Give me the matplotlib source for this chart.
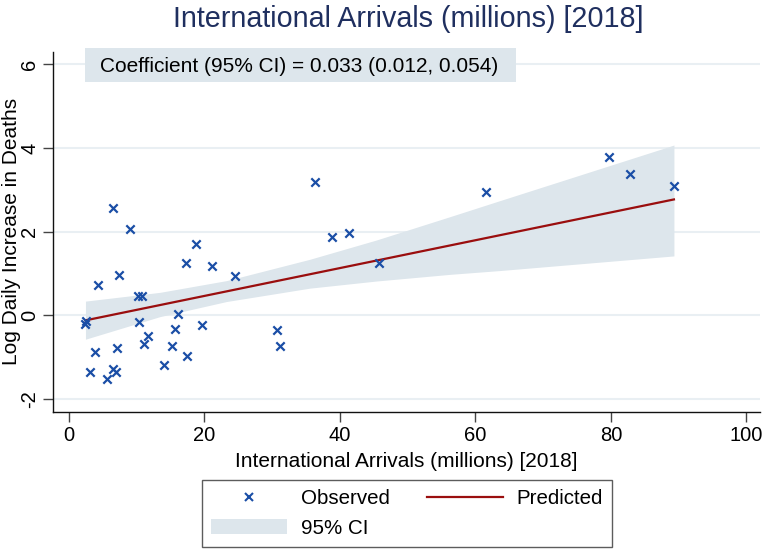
import matplotlib.pyplot as plt
from matplotlib.patches import Patch, Rectangle
from matplotlib.lines import Line2D

plt.rcParams['font.family'] = ['Liberation Sans', 'DejaVu Sans']
plt.rcParams['axes.unicode_minus'] = False

# Observed points (international arrivals in millions, log daily increase in deaths)
arrivals = [6.61, 9.07, 18.76, 17.37, 21.12, 24.51, 4.40, 7.40, 10.21, 10.88,
            2.54, 2.43, 16.15, 10.44, 15.75, 19.65, 11.73, 11.18, 15.31, 17.48,
            3.86, 7.15, 14.09, 3.22, 6.56, 7.01, 5.72, 30.80, 31.15, 36.31,
            38.86, 41.33, 45.75, 61.53, 79.76, 82.77, 89.31]
log_deaths = [2.57, 2.06, 1.70, 1.25, 1.19, 0.93, 0.72, 0.96, 0.47, 0.47,
              -0.14, -0.21, 0.04, -0.17, -0.33, -0.22, -0.50, -0.68, -0.73, -0.97,
              -0.87, -0.77, -1.18, -1.35, -1.28, -1.36, -1.51, -0.35, -0.73, 3.18,
              1.88, 1.97, 1.25, 2.94, 3.78, 3.38, 3.09]

# Predicted line and 95% CI band
pred_x = [2.5, 89.3]
pred_y = [-0.12, 2.77]
ci_x = [2.5, 13.5, 23.3, 35.6, 45.4, 56.3, 63.6, 89.3]
ci_lo = [-0.57, -0.03, 0.33, 0.65, 0.82, 0.98, 1.07, 1.42]
ci_hi = [0.34, 0.55, 0.83, 1.34, 1.80, 2.36, 2.74, 4.07]

coef_text = 'Coefficient (95% CI) = 0.033 (0.012, 0.054)'
title = 'International Arrivals (millions) [2018]'

band_col = '#dde6ec'
line_col = '#9a0e0e'
mark_col = '#1a4ea6'

fig = plt.figure(figsize=(7.64, 5.52), dpi=100)
ax = fig.add_axes([0.0698, 0.2536, 0.925, 0.6527])

ax.fill_between(ci_x, ci_lo, ci_hi, color=band_col, lw=0, zorder=1)
ax.plot(pred_x, pred_y, color=line_col, lw=1.6, zorder=3)
ax.scatter(arrivals, log_deaths, marker='x', color=mark_col, s=36, linewidths=1.6, zorder=4)

ax.set_xlim(-2.24, 102.0)
ax.set_ylim(-2.31, 6.30)
ax.set_xticks([0, 20, 40, 60, 80, 100])
ax.set_yticks([-2, 0, 2, 4, 6])
ax.grid(axis='y', color='#e9eff3', lw=1.5, zorder=0)
ax.set_axisbelow(True)
for side in ['top', 'right']:
    ax.spines[side].set_visible(False)
for side in ['left', 'bottom']:
    ax.spines[side].set_color('#111111')
    ax.spines[side].set_linewidth(1.0)
ax.tick_params(axis='both', length=7, width=1, color='#444444', labelsize=14.5, pad=3)
plt.setp(ax.get_yticklabels(), rotation=90, va='center')

ax.set_xlabel(title, fontsize=15, labelpad=5)
fig.text(12 / 764, 0.58, 'Log Daily Increase in Deaths', rotation=90,
         ha='center', va='center', fontsize=15)

fig.text(408 / 764, 0.9656, title, ha='center', va='center', fontsize=20.7, color='#1f2f5f')

# coefficient box
fig.add_artist(Rectangle((85 / 764, 1 - 82 / 552), 431 / 764, 34 / 552,
                         transform=fig.transFigure, fc=band_col, ec='none', zorder=5))
fig.text(100 / 764, 1 - 66 / 552, coef_text, ha='left', va='center', fontsize=15, zorder=6)

handles = [Line2D([], [], marker='x', color=mark_col, ls='none', markersize=6, mew=1.5),
           Patch(fc=band_col, ec='none'),
           Line2D([], [], color=line_col, lw=1.6)]
labels = ['Observed', '95% CI', 'Predicted']
leg = fig.legend(handles, labels, loc='center', bbox_to_anchor=(0.5327, 0.0697), ncol=2,
                 fontsize=14.8, frameon=True, fancybox=False, edgecolor='#333333',
                 handlelength=3.7, handletextpad=0.68, columnspacing=1.8,
                 borderpad=0.45, labelspacing=0.5, borderaxespad=0)
leg.get_frame().set_linewidth(1.0)

fig.savefig('out.png', dpi=100)
